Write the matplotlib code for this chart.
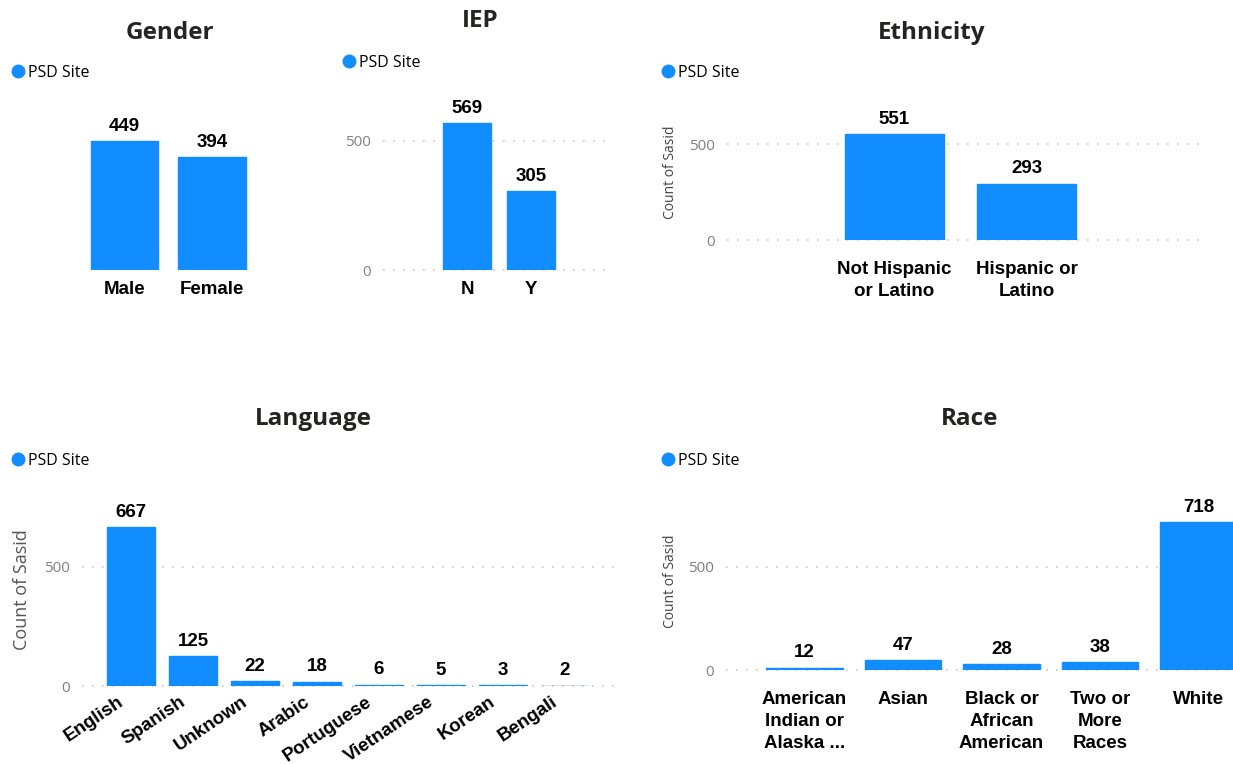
import matplotlib.pyplot as plt
from matplotlib.lines import Line2D
from matplotlib.transforms import ScaledTranslation


# ============================================================
# DATOS
# ============================================================

gender_labels = ["Male", "Female"]
gender_counts = [449, 394]

iep_labels = ["N", "Y"]
iep_counts = [569, 305]

ethnicity_labels = ["Not Hispanic\nor Latino", "Hispanic or\nLatino"]
ethnicity_counts = [551, 293]

language_labels = ["English", "Spanish", "Unknown", "Arabic",
                   "Portuguese", "Vietnamese", "Korean", "Bengali"]
language_counts = [667, 125, 22, 18, 6, 5, 3, 2]

race_labels = ["American\nIndian or\nAlaska ...", "Asian",
               "Black or\nAfrican\nAmerican", "Two or\nMore\nRaces", "White"]
race_counts = [12, 47, 28, 38, 718]

y_ticks = [0, 500]
series_name = "PSD Site"
y_title = "Count of Sasid"


# ============================================================
# ESTILO
# ============================================================

W, H = 1233, 764
BLUE = "#118DFF"
TITLE_COLOR = "#252423"
BOLD_FONT = "Liberation Sans"
UI_FONT = "Open Sans"

fig = plt.figure(figsize=(W / 100, H / 100), dpi=100)
fig.patch.set_facecolor("white")


def panel(left, right, top, zero_y, first_x, step, px_per_unit):
    # ejes colocados en pixeles de la figura
    ax = fig.add_axes([left / W, 1 - zero_y / H,
                       (right - left) / W, (zero_y - top) / H])
    ax.set_xlim((left - first_x) / step, (right - first_x) / step)
    ax.set_ylim(0, (zero_y - top) / px_per_unit)
    for s in ax.spines.values():
        s.set_visible(False)
    ax.tick_params(length=0)
    return ax


def draw(ax, labels, counts, width, pad, show_y=True):
    bars = ax.bar(range(len(counts)), counts, width=width, color=BLUE,
                  edgecolor=BLUE, linewidth=1.0)
    ax.bar_label(bars, padding=4.5, fontsize=13.5, fontweight="bold",
                 family=BOLD_FONT, color="black")
    ax.set_xticks(range(len(labels)), labels)
    ax.tick_params(axis="x", pad=pad)
    for t in ax.get_xticklabels():
        t.set_fontsize(13.5)
        t.set_fontweight("bold")
        t.set_family(BOLD_FONT)
        t.set_linespacing(1.4)
    if show_y:
        ax.set_yticks(y_ticks)
        ax.tick_params(axis="y", pad=9, labelsize=11, labelcolor="#808080")
        for t in ax.get_yticklabels():
            t.set_family(UI_FONT)
        ax.yaxis.grid(True, linestyle=(0, (1, 5)), color="#c8c8c8", lw=1.2)
        for g in ax.get_ygridlines():
            g.set_clip_on(False)
        ax.set_axisbelow(True)
    else:
        ax.set_yticks([])


def title(x, y, text):
    fig.text(x / W, 1 - y / H, text, ha="center", va="center",
             fontsize=17.5, fontweight="bold", family=UI_FONT,
             color=TITLE_COLOR)


def legend(x, y):
    handle = Line2D([], [], marker="o", ls="", color=BLUE, markersize=9)
    fig.legend([handle], [series_name], loc="center left",
               bbox_to_anchor=(x / W, 1 - y / H), frameon=False,
               borderpad=0, borderaxespad=0, handlelength=0.8,
               handletextpad=0.2, prop={"family": UI_FONT, "size": 11.5})


def ylabel(x, y, size, color):
    fig.text(x / W, 1 - y / H, y_title, rotation=90, ha="center",
             va="center", fontsize=size, family=UI_FONT, color=color)


# ============================================================
# GENDER
# ============================================================

ax = panel(37, 300, 110, 270, 124.5, 87.5, 0.287)
draw(ax, gender_labels, gender_counts, 0.766, 8, show_y=False)
title(170, 33, "Gender")
legend(12, 73)


# ============================================================
# IEP
# ============================================================

ax = panel(383, 612, 110, 270, 467, 64, 0.258)
draw(ax, iep_labels, iep_counts, 0.75, 8)
title(480, 21, "IEP")
legend(343, 63)


# ============================================================
# ETHNICITY
# ============================================================

ax = panel(727, 1200, 110, 240, 894.5, 132, 0.192)
draw(ax, ethnicity_labels, ethnicity_counts, 0.75, 15)
title(932, 33, "Ethnicity")
legend(662, 73)
ylabel(670, 172, 10, "#444444")


# ============================================================
# LANGUAGE
# ============================================================

ax = panel(82, 615, 500, 686, 131, 62, 0.238)
draw(ax, language_labels, language_counts, 0.78, 5.5)
shift = ScaledTranslation(-14 / 100, 0, fig.dpi_scale_trans)
for t in ax.get_xticklabels():
    t.set_rotation(34)
    t.set_ha("right")
    t.set_rotation_mode("anchor")
    t.set_transform(t.get_transform() + shift)
title(313, 419, "Language")
legend(12, 461)
ylabel(22, 590, 13, "#555555")


# ============================================================
# RACE
# ============================================================

ax = panel(726, 1233, 500, 670, 804.5, 98.5, 0.206)
draw(ax, race_labels, race_counts, 0.78, 15)
title(970, 419, "Race")
legend(662, 461)
ylabel(670, 581, 10, "#444444")


fig.savefig("out.png", dpi=100, facecolor="white")
